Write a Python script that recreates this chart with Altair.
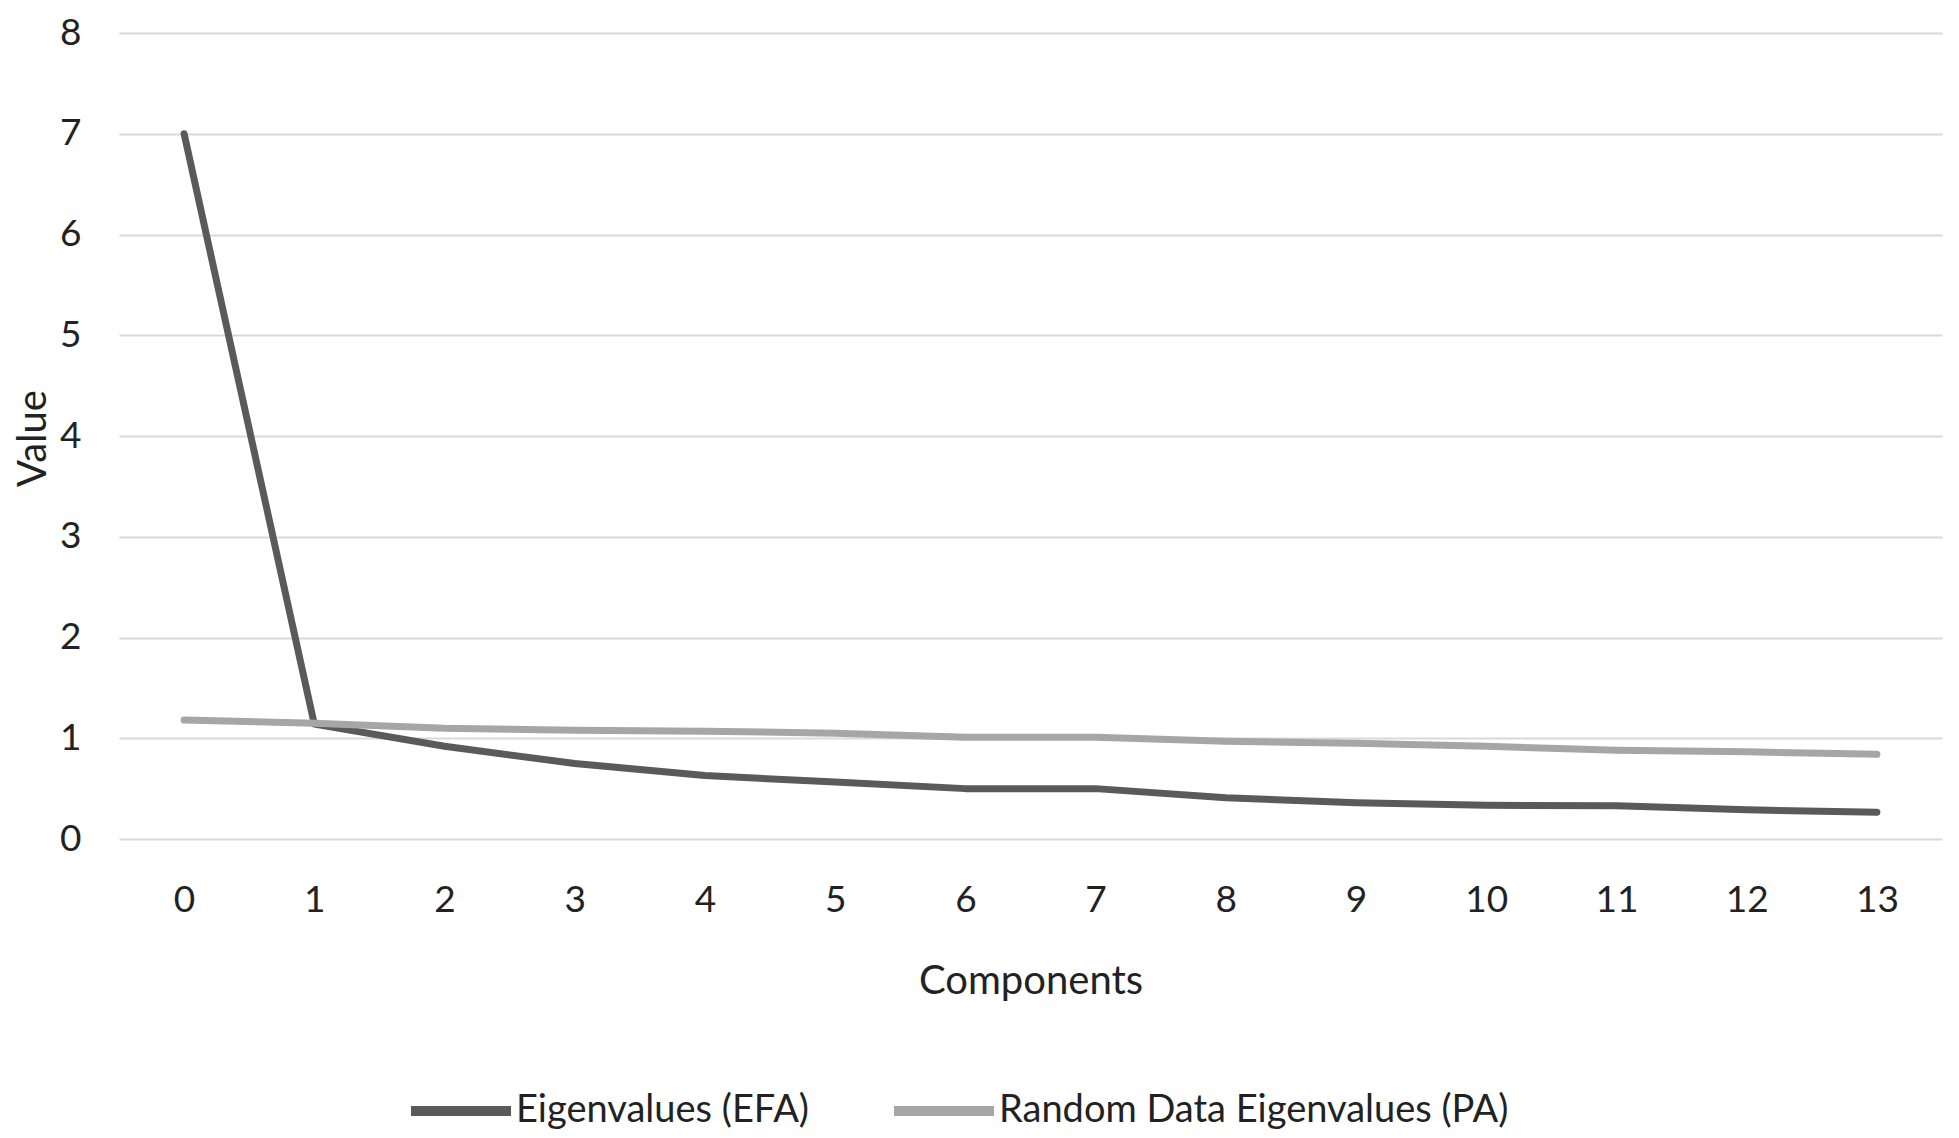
import altair as alt
import pandas as pd

components = list(range(14))
efa = [7.0, 1.14, 0.92, 0.75, 0.63, 0.565, 0.50, 0.50, 0.41, 0.36, 0.335, 0.33, 0.29, 0.265]
pa = [1.18, 1.15, 1.10, 1.08, 1.07, 1.05, 1.01, 1.01, 0.97, 0.95, 0.92, 0.88, 0.865, 0.84]
y_ticks = [0, 1, 2, 3, 4, 5, 6, 7, 8]
series = ["Eigenvalues (EFA)", "Random Data Eigenvalues (PA)"]
colors = ["#5a5a5a", "#a6a6a6"]

rows = []
for c, v in zip(components, efa):
    rows.append({"Components": c, "Value": v, "Series": series[0], "o": 0})
for c, v in zip(components, pa):
    rows.append({"Components": c, "Value": v, "Series": series[1], "o": 1})
df = pd.DataFrame(rows)

FONT = "Lato"
PLOT_H = 806

chart = alt.Chart(df).mark_line(strokeWidth=7, strokeCap="round", strokeJoin="round").encode(
    x=alt.X("Components:O", scale=alt.Scale(type="point", padding=0.5),
            axis=alt.Axis(title="Components", labelAngle=0, domain=False, ticks=False,
                          labelPadding=43, labelFontSize=37, labelColor="#222222",
                          titleFontSize=40, titleFontWeight="normal", titleColor="#222222",
                          titleBaseline="alphabetic", titleY=154, labelFont=FONT, titleFont=FONT)),
    y=alt.Y("Value:Q", scale=alt.Scale(domain=[0, 8], nice=False),
            axis=alt.Axis(title="Value", values=y_ticks, labelOverlap=False,
                          domain=False, ticks=False, labelPadding=38, labelFontSize=37,
                          labelColor="#222222", gridColor="#d9d9d9", gridWidth=2,
                          titleFontSize=40, titleFontWeight="normal", titleColor="#222222",
                          titleX=-86, titleY=405, titleBaseline="middle", titleAlign="center",
                          labelFont=FONT, titleFont=FONT)),
    color=alt.Color("Series:N", scale=alt.Scale(domain=series, range=colors),
                    legend=alt.Legend(title=None, orient="none", direction="horizontal",
                                      legendX=287, legendY=1023,
                                      symbolType="stroke", symbolSize=10000,
                                      symbolStrokeWidth=10, labelFontSize=38, labelFont=FONT,
                                      labelColor="#222222", labelOffset=0, columnPadding=64,
                                      labelLimit=600)),
    order=alt.Order("o:Q"),
).properties(
    width=1823, height=PLOT_H,
    padding={"left": 111, "top": 25, "right": 9, "bottom": 291},
    autosize=alt.AutoSizeParams(type="none"),
    background="white",
).configure_view(stroke=None)

chart.save("out.html", embed_options={"renderer": "svg", "actions": False})
